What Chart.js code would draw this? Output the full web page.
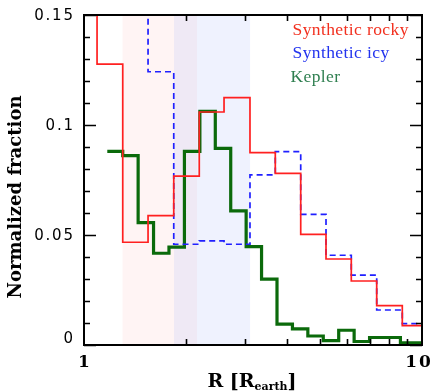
<!DOCTYPE html>
<html>
<head>
<meta charset="utf-8">
<script src="https://cdn.jsdelivr.net/npm/chart.js@4.4.1/dist/chart.umd.min.js"></script>
<style>
  html, body { margin: 0; padding: 0; background: #ffffff; }
  canvas { display: block; }
</style>
</head>
<body>
<canvas id="c" width="435" height="392"></canvas>
<script>
// Radius bin edges (Earth radii) and normalized fractions per bin
const synthEdges = [0.92, 1.093, 1.302, 1.547, 1.843, 2.193, 2.596, 3.098, 3.681, 4.377, 5.200, 6.177, 7.345, 8.744, 10.39];
const rockyFrac  = [0.170, 0.1277, 0.0467, 0.0588, 0.0768, 0.1059, 0.1124, 0.0874, 0.0780, 0.0503, 0.0391, 0.0291, 0.0179, 0.0088];
const icyFrac    = [0.200, 0.200, 0.170, 0.1242, 0.0458, 0.0473, 0.0458, 0.0773, 0.0879, 0.0594, 0.0408, 0.0318, 0.0159, 0.0097];

const keplerEdges = [1.172, 1.302, 1.446, 1.606, 1.784, 1.982, 2.202, 2.446, 2.717, 3.018, 3.352,
                     3.724, 4.137, 4.595, 5.104, 5.670, 6.298, 6.996, 7.772, 8.633, 9.590, 10.65];
const keplerFrac  = [0.0880, 0.0861, 0.0556, 0.0417, 0.0445, 0.0880, 0.1062, 0.0894, 0.0610, 0.0447, 0.0299,
                     0.0095, 0.0073, 0.0041, 0.0020, 0.0067, 0.0016, 0.0034, 0.0034, 0.0010, 0.0010];

// Shaded radius ranges
const bandLo = [1.30, 1.846];
const bandHi = [2.16, 3.10];
const bandColors = ['rgba(255,120,110,0.08)', 'rgba(110,140,245,0.11)'];

// Axis ticks and labels
const yMajorTicks = [0, 0.05, 0.1, 0.15];
const yTickLabels = ['0', '0.05', '0.1', '0.15'];
const xMinorTicks = [2, 3, 4, 5, 6, 7, 8, 9];
const xTickValues = [1, 10];
const xTickLabels = ['1', '10'];

const seriesNames = ['Synthetic rocky', 'Synthetic icy', 'Kepler'];
const seriesColors = ['#ff2020', '#2020ff', '#0b6a0b'];
const legendTextColors = ['#f2301f', '#2233ee', '#2f7f50'];

function stepPoints(edges, vals) {
  return edges.map((x, i) => ({ x: x, y: i < vals.length ? vals[i] : vals[vals.length - 1] }));
}

const bandPlugin = {
  id: 'bands',
  beforeDatasetsDraw(chart) {
    const { ctx, chartArea: a, scales: { x } } = chart;
    ctx.save();
    for (let i = 0; i < bandLo.length; i++) {
      const x0 = x.getPixelForValue(bandLo[i]);
      const x1 = x.getPixelForValue(bandHi[i]);
      ctx.fillStyle = bandColors[i];
      ctx.fillRect(x0, a.top, x1 - x0, a.bottom - a.top);
    }
    ctx.restore();
  }
};

const framePlugin = {
  id: 'frame',
  afterDatasetsDraw(chart) {
    const { ctx, chartArea: a, scales: { x, y } } = chart;
    ctx.save();
    ctx.strokeStyle = '#000';
    ctx.lineWidth = 2;
    ctx.strokeRect(a.left, a.top, a.right - a.left, a.bottom - a.top);

    // y ticks, both sides, pointing inward
    ctx.lineWidth = 1.6;
    ctx.beginPath();
    for (let k = 0; k <= 15; k++) {
      const v = k / 100;
      const py = Math.round(y.getPixelForValue(v)) + 0.5;
      const len = (k % 5 === 0) ? 12 : 6;
      ctx.moveTo(a.left, py); ctx.lineTo(a.left + len, py);
      ctx.moveTo(a.right, py); ctx.lineTo(a.right - len, py);
    }
    // x minor ticks, top and bottom
    for (const v of xMinorTicks) {
      const px = Math.round(x.getPixelForValue(v)) + 0.5;
      ctx.moveTo(px, a.bottom); ctx.lineTo(px, a.bottom - 6);
      ctx.moveTo(px, a.top); ctx.lineTo(px, a.top + 6);
    }
    ctx.stroke();

    // y tick labels
    ctx.fillStyle = '#000';
    ctx.font = '15px "DejaVu Sans"';
    ctx.letterSpacing = '1.8px';
    ctx.textAlign = 'right';
    ctx.textBaseline = 'middle';
    yMajorTicks.forEach((v, i) => {
      let py = y.getPixelForValue(v) + 1;
      if (v === 0) py -= 7;
      ctx.fillText(yTickLabels[i], a.left - 11 + 1.8, py);
    });

    // x tick labels
    ctx.font = 'bold 17px "DejaVu Serif"';
    ctx.letterSpacing = '2px';
    ctx.textAlign = 'center';
    xTickValues.forEach((v, i) => {
      let px = x.getPixelForValue(v);
      if (i === xTickValues.length - 1) px -= 4;
      ctx.fillText(xTickLabels[i], px + 1, 363);
    });
    ctx.letterSpacing = '0px';

    // y axis title
    ctx.save();
    ctx.translate(16, (a.top + a.bottom) / 2 + 17);
    ctx.rotate(-Math.PI / 2);
    ctx.font = 'bold 18px "DejaVu Serif"';
    ctx.textAlign = 'center';
    ctx.textBaseline = 'middle';
    ctx.fillText('Normalized fraction', 0, 0);
    ctx.restore();

    // x axis title with subscript
    ctx.textAlign = 'left';
    ctx.textBaseline = 'alphabetic';
    const main = 'bold 19px "DejaVu Serif"';
    const sub = 'bold 11px "DejaVu Serif"';
    ctx.font = main;
    const w1 = ctx.measureText('R [R').width;
    ctx.font = sub;
    const w2 = ctx.measureText('earth').width;
    ctx.font = main;
    const w3 = ctx.measureText(']').width;
    let sx = 252 - (w1 + w2 + w3) / 2;
    const base = 387;
    ctx.font = main; ctx.fillText('R [R', sx, base); sx += w1;
    ctx.font = sub; ctx.fillText('earth', sx, base + 3); sx += w2;
    ctx.font = main; ctx.fillText(']', sx, base);

    // legend entries
    ctx.font = '17.5px "Liberation Serif"';
    ctx.letterSpacing = '0.4px';
    const legY = [35, 58, 82];
    const legX = [292.5, 292.5, 290.5];
    seriesNames.forEach((name, i) => {
      ctx.fillStyle = legendTextColors[i];
      ctx.fillText(name, legX[i], legY[i]);
    });
    ctx.restore();
  }
};

new Chart(document.getElementById('c'), {
  type: 'line',
  data: {
    datasets: [
      { label: seriesNames[0], data: stepPoints(synthEdges, rockyFrac), borderColor: seriesColors[0], borderWidth: 1.7, stepped: 'before' },
      { label: seriesNames[1], data: stepPoints(synthEdges, icyFrac), borderColor: seriesColors[1], borderWidth: 1.7, borderDash: [6, 4], stepped: 'before' },
      { label: seriesNames[2], data: stepPoints(keplerEdges, keplerFrac), borderColor: seriesColors[2], borderWidth: 3.2, stepped: 'before' }
    ]
  },
  options: {
    responsive: false,
    animation: false,
    devicePixelRatio: 1,
    layout: { padding: { top: 15, right: 13, left: 0, bottom: 0 } },
    elements: { point: { radius: 0 }, line: { fill: false, tension: 0 } },
    plugins: { legend: { display: false }, tooltip: { enabled: false } },
    scales: {
      x: {
        type: 'logarithmic', min: 1, max: 10,
        grid: { display: false }, border: { display: false }, ticks: { display: false },
        afterFit(s) { s.height = 47; }
      },
      y: {
        type: 'linear', min: 0, max: 0.15,
        grid: { display: false }, border: { display: false }, ticks: { display: false },
        afterFit(s) { s.width = 84; }
      }
    }
  },
  plugins: [bandPlugin, framePlugin]
});
</script>
</body>
</html>
